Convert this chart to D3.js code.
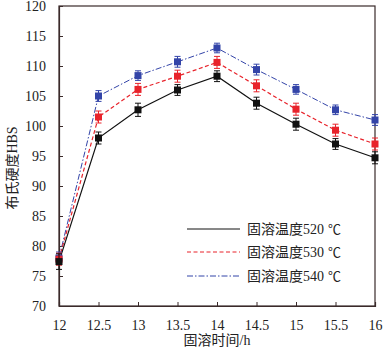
<!DOCTYPE html>
<html><head><meta charset="utf-8">
<script src="https://cdn.jsdelivr.net/npm/d3@7"></script>
<style>body{margin:0;background:#fff}svg{display:block}</style>
</head><body><svg id="c" width="384" height="351"></svg>
<script>
const times = [12, 12.5, 13, 13.5, 14, 14.5, 15, 15.5, 16];
const xTicks = [12, 12.5, 13, 13.5, 14, 14.5, 15, 15.5, 16];
const yTicks = [70, 75, 80, 85, 90, 95, 100, 105, 110, 115, 120];
const s520 = [77.4, 98.0, 102.7, 106.0, 108.3, 103.8, 100.3, 97.0, 94.7];
const s530 = [77.8, 101.5, 106.1, 108.3, 110.6, 106.7, 102.8, 99.3, 97.0];
const s540 = [78.0, 105.0, 108.4, 110.7, 113.0, 109.4, 106.1, 102.7, 101.0];
const err520 = [1.3, 1.0, 1.1, 0.9, 0.9, 1.0, 1.0, 0.9, 1.0];
const err530 = [1.0, 1.0, 1.0, 1.0, 1.0, 1.0, 1.0, 1.0, 1.0];
const err540 = [1.0, 0.9, 0.8, 0.9, 0.8, 0.9, 0.8, 0.8, 0.9];
const labels = ["固溶温度520", "固溶温度530", "固溶温度540"];

const svg = d3.select("#c");
const L = 59, R = 375, T = 6, B = 306;
const x = d3.scaleLinear().domain([12, 16]).range([L, R]);
const y = d3.scaleLinear().domain([70, 120]).range([B, T]);
const axisCol = "#3a2a2a";
const font = "'Liberation Serif','Times New Roman','Noto Sans CJK SC',serif";

const series = [
  {v: s540, e: err540, c: "#3344a8", dash: "6,2,1.5,2", w: 1},
  {v: s530, e: err530, c: "#e8232b", dash: "4,2.5", w: 1.2},
  {v: s520, e: err520, c: "#111111", dash: null, w: 1.2}
];

svg.append("rect").attr("x", L).attr("y", T).attr("width", R - L).attr("height", B - T)
  .attr("fill", "none").attr("stroke", axisCol).attr("stroke-width", 1.2);

const xa = svg.append("g").attr("transform", `translate(0,${B})`)
  .call(d3.axisBottom(x).tickValues(xTicks).tickSize(-4).tickPadding(14).tickFormat(d3.format("")));
const ya = svg.append("g").attr("transform", `translate(${L},0)`)
  .call(d3.axisLeft(y).tickValues(yTicks).tickSize(-4).tickPadding(13));
[xa, ya].forEach(g => {
  g.select(".domain").attr("stroke", axisCol).attr("stroke-width", 1.2);
  g.selectAll(".tick line").attr("stroke", axisCol);
  g.selectAll("text").attr("font-family", font).attr("font-size", 14).attr("fill", "#222");
});
xa.selectAll(".tick").filter(d => d === 12 || d === 16).select("line").remove();

const line = d3.line().x((d, i) => x(times[i])).y(d => y(d));
series.forEach(s => {
  svg.append("path").datum(s.v).attr("d", line).attr("fill", "none")
    .attr("stroke", s.c).attr("stroke-width", s.w).attr("stroke-dasharray", s.dash);
});
series.forEach(s => {
  const g = svg.append("g");
  s.v.forEach((v, i) => {
    const cx = x(times[i]);
    g.append("line").attr("x1", cx).attr("x2", cx).attr("y1", y(v - s.e[i])).attr("y2", y(v + s.e[i]))
      .attr("stroke", s.c).attr("stroke-width", 1);
    [v - s.e[i], v + s.e[i]].forEach(t => g.append("line").attr("x1", cx - 3).attr("x2", cx + 3)
      .attr("y1", y(t)).attr("y2", y(t)).attr("stroke", s.c).attr("stroke-width", 1));
    g.append("rect").attr("x", cx - 3.5).attr("y", y(v) - 3.5).attr("width", 7).attr("height", 7).attr("fill", s.c);
  });
});

const leg = [series[2], series[1], series[0]];
const ly = [229, 252, 276];
leg.forEach((s, i) => {
  svg.append("line").attr("x1", 187).attr("x2", 240).attr("y1", ly[i]).attr("y2", ly[i])
    .attr("stroke", s.c).attr("stroke-width", 1).attr("stroke-dasharray", s.dash);
  const t = svg.append("text").attr("x", 247).attr("y", ly[i]).attr("dy", "0.36em")
    .attr("font-family", font).attr("font-size", 14).attr("fill", "#222");
  t.append("tspan").text(labels[i]);
  t.append("tspan").attr("dx", 4).attr("font-family", "'Noto Sans CJK SC',sans-serif").attr("font-size", 13).text("℃");
});

svg.append("text").attr("x", (L + R) / 2).attr("y", 345).attr("text-anchor", "middle")
  .attr("font-family", font).attr("font-size", 14).attr("fill", "#222").text("固溶时间/h");
svg.append("text").attr("transform", "translate(17,168) rotate(-90)").attr("text-anchor", "middle")
  .attr("font-family", font).attr("font-size", 14).attr("fill", "#222").text("布氏硬度HBS");
</script></body></html>
